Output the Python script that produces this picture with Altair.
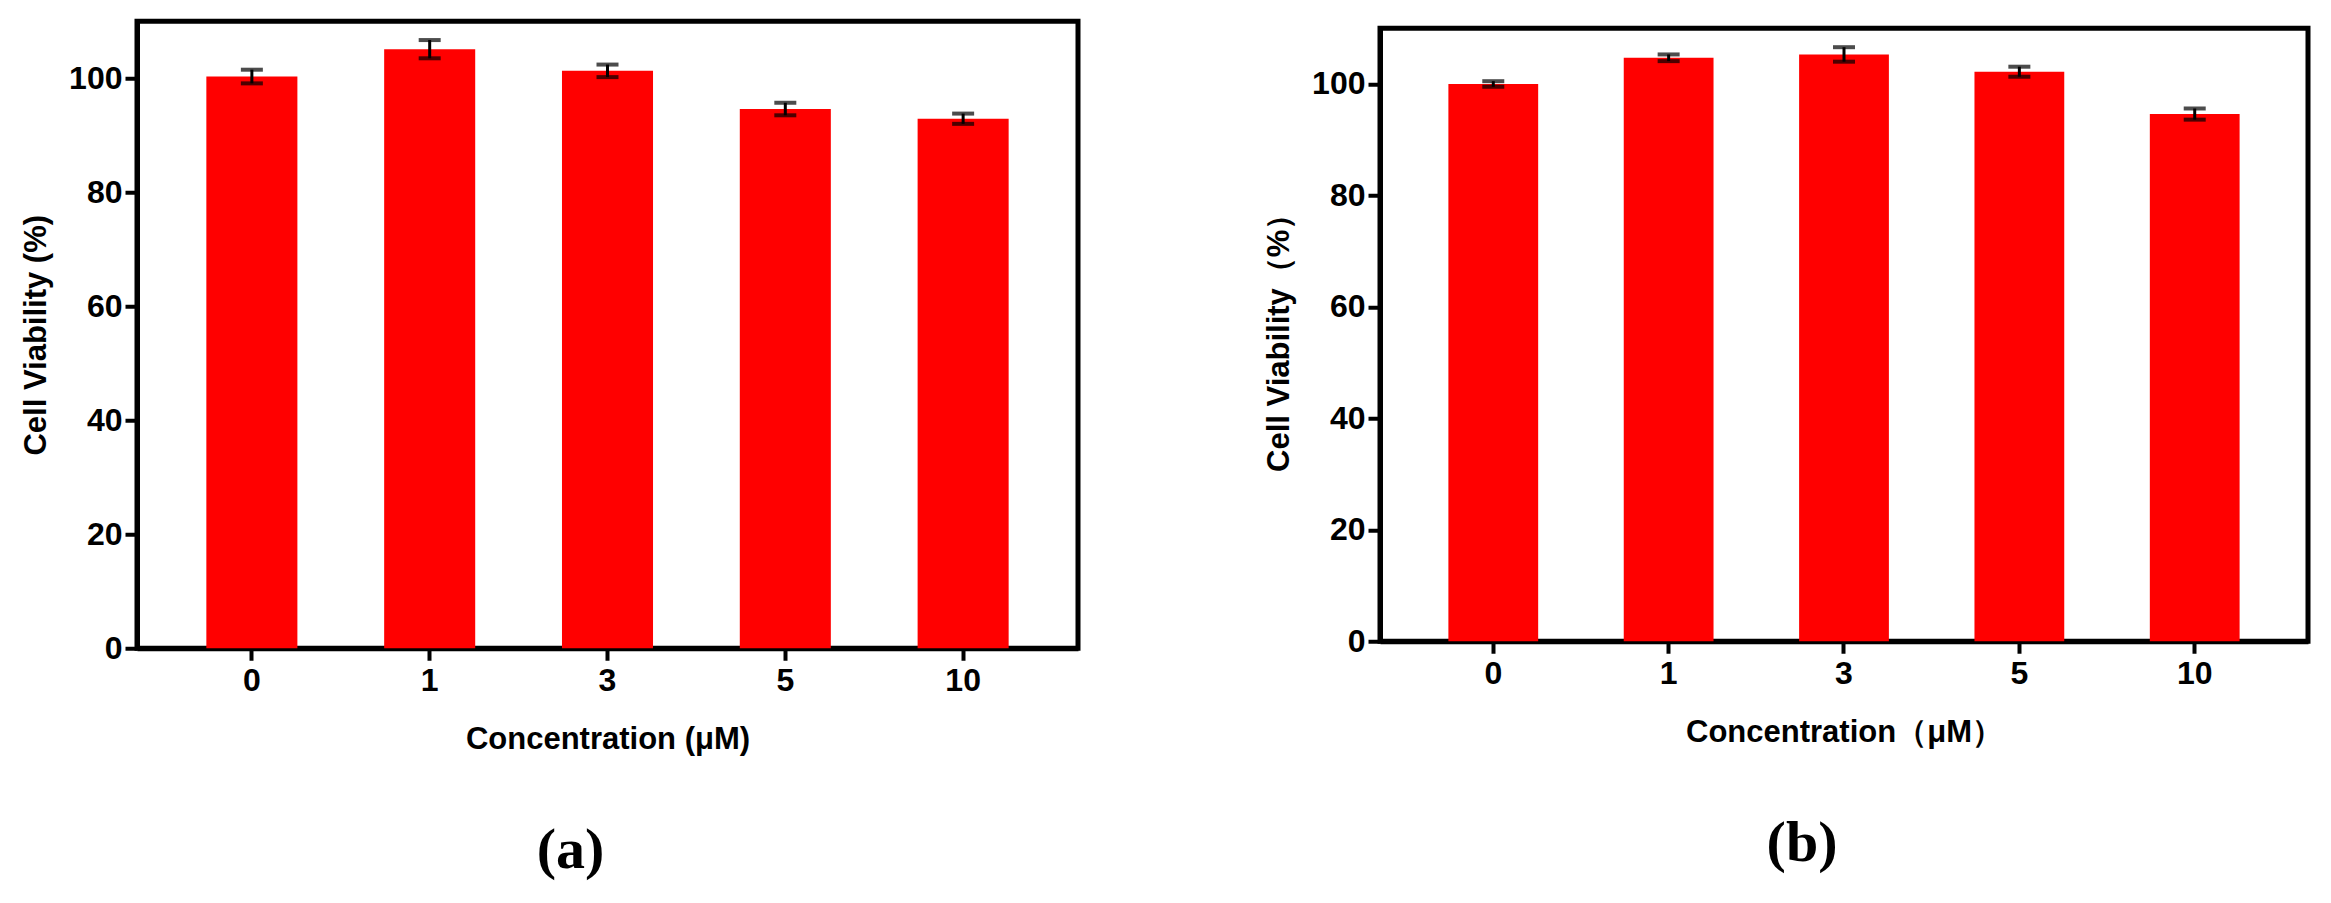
import altair as alt
import pandas as pd

conc = ["0", "1", "3", "5", "10"]
viab_a = [100.3, 105.1, 101.3, 94.6, 92.9]
err_a = [1.2, 1.6, 1.1, 1.1, 0.9]
viab_b = [100.0, 104.7, 105.3, 102.2, 94.6]
err_b = [0.5, 0.6, 1.3, 0.9, 1.0]
y_ticks = [0, 20, 40, 60, 80, 100]


def panel(vals, errs, xtitle, ytitle, label, w, h, dx):
    df = pd.DataFrame({"conc": conc, "v": vals, "e": errs})
    df["lo"] = df["v"] - df["e"]
    df["hi"] = df["v"] + df["e"]
    xs = alt.Scale(paddingInner=0.488, paddingOuter=0.39)
    ys = alt.Scale(domain=[0, 110], nice=False)
    xax = alt.Axis(labelAngle=0, labelPadding=5, titlePadding=28)
    yax = alt.Axis(values=y_ticks, grid=False, labelPadding=3, titlePadding=16)

    def X():
        return alt.X("conc:N", sort=conc, title=xtitle, scale=xs, axis=xax)

    def Y(f):
        return alt.Y(f, title=ytitle, scale=ys, axis=yax)

    base = alt.Chart(df)
    bars = base.mark_bar(color="#FF0000").encode(x=X(), y=Y("v:Q"))
    stem = base.mark_rule(color="black", strokeWidth=3).encode(
        x=X(), y=Y("lo:Q"), y2="hi:Q")
    cap_hi = base.mark_tick(color="black", thickness=4, size=22).encode(
        x=X(), y=Y("hi:Q"))
    cap_lo = base.mark_tick(color="black", thickness=4, size=22).encode(
        x=X(), y=Y("lo:Q"))
    return alt.layer(bars, stem, cap_hi, cap_lo).properties(
        width=w, height=h,
        title=alt.TitleParams(label, orient="bottom", anchor="middle",
                              frame="group", dx=dx, offset=68),
    )


pa = panel(viab_a, err_a, "Concentration (μM)", "Cell Viability (%)", "(a)", 941, 627, -37)
pb = panel(viab_b, err_b, "Concentration（μM）", "Cell Viability（%）", "(b)", 928, 613, -42)

chart = alt.hconcat(pa, pb, spacing=180, center=True).properties(
    padding={"left": 10, "top": 10, "right": 5, "bottom": 5}
).configure_view(
    stroke="black", strokeWidth=5
).configure_axis(
    domainColor="black", domainWidth=5, tickColor="black", tickWidth=4, tickSize=12,
    labelFont="Liberation Sans", labelFontWeight="bold", labelFontSize=32, labelColor="black",
    titleFont="Liberation Sans", titleFontWeight="bold", titleFontSize=31, titleColor="black",
).configure_title(
    font="Liberation Serif", fontSize=58, fontWeight="bold", color="black"
)

chart.save("out.html", embed_options={"renderer": "svg", "actions": False})
